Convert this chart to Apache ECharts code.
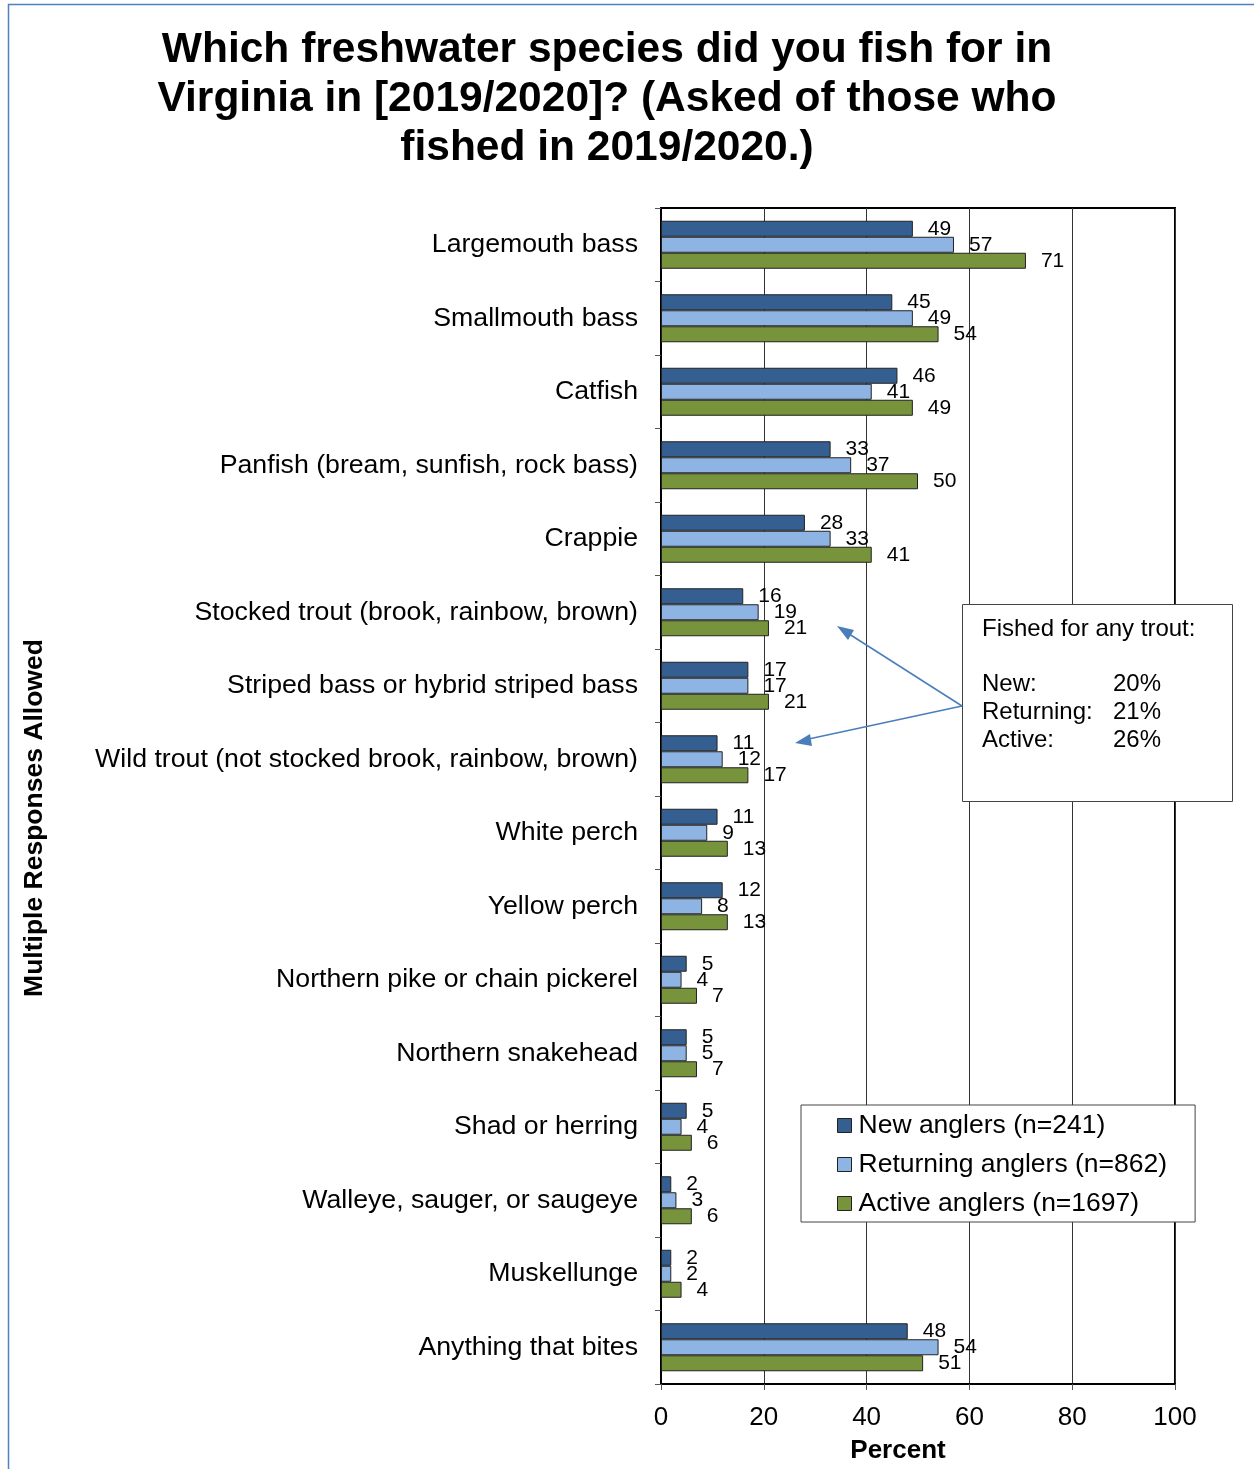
<!DOCTYPE html>
<html>
<head>
<meta charset="utf-8">
<script src="https://cdn.jsdelivr.net/npm/echarts@6/dist/echarts.min.js"></script>
<style>
  html, body { margin: 0; padding: 0; background: #fff; }
  #chart { width: 1254px; height: 1469px; }
</style>
</head>
<body>
<div id="chart"></div>
<script>
const categories = [
  'Largemouth bass',
  'Smallmouth bass',
  'Catfish',
  'Panfish (bream, sunfish, rock bass)',
  'Crappie',
  'Stocked trout (brook, rainbow, brown)',
  'Striped bass or hybrid striped bass',
  'Wild trout (not stocked brook, rainbow, brown)',
  'White perch',
  'Yellow perch',
  'Northern pike or chain pickerel',
  'Northern snakehead',
  'Shad or herring',
  'Walleye, sauger, or saugeye',
  'Muskellunge',
  'Anything that bites'
]
const newAnglers = [49, 45, 46, 33, 28, 16, 17, 11, 11, 12, 5, 5, 5, 2, 2, 48]
const returningAnglers = [57, 49, 41, 37, 33, 19, 17, 12, 9, 8, 4, 5, 4, 3, 2, 54]
const activeAnglers = [71, 54, 49, 50, 41, 21, 21, 17, 13, 13, 7, 7, 6, 6, 4, 51]
const seriesNames = ['New anglers (n=241)', 'Returning anglers (n=862)', 'Active anglers (n=1697)']
const xTicks = [0, 20, 40, 60, 80, 100]

const font = 'Liberation Sans, Arial, sans-serif'
const colors = ['#365F91', '#8EB4E3', '#77933C']

const chart = echarts.init(document.getElementById('chart'))

function barSeries(name, values, color) {
  return {
    name: name,
    type: 'bar',
    data: values,
    barWidth: 16,
    barGap: '0%',
    itemStyle: { color: color, borderColor: '#222', borderWidth: 1 },
    label: {
      show: true,
      position: 'right',
      distance: 15,
      color: '#000',
      fontSize: 21,
      fontFamily: font
    }
  }
}

chart.setOption({
  animation: false,
  title: {
    text: 'Which freshwater species did you fish for in\nVirginia in [2019/2020]? (Asked of those who\nfished in 2019/2020.)',
    left: 602,
    top: 21,
    textAlign: 'center',
    textStyle: {
      fontFamily: font,
      fontWeight: 'bold',
      fontSize: 42.5,
      lineHeight: 49,
      color: '#000'
    }
  },
  grid: { left: 661, right: 79, top: 208, bottom: 84, show: true, borderColor: '#000', borderWidth: 2 },
  legend: {
    orient: 'vertical',
    left: 801,
    top: 1105,
    width: 394,
    padding: [7, 28, 5, 36],
    itemGap: 12,
    itemWidth: 14,
    itemHeight: 14,
    borderColor: '#444',
    borderWidth: 1,
    backgroundColor: '#fff',
    icon: 'rect',
    itemStyle: { borderColor: '#222', borderWidth: 1 },
    textStyle: { fontFamily: font, fontSize: 26.5, color: '#000', padding: [0, 0, 0, 2] },
    data: seriesNames
  },
  xAxis: {
    type: 'value',
    min: 0,
    max: 100,
    interval: 20,
    name: 'Percent',
    nameLocation: 'middle',
    nameGap: 54,
    nameTextStyle: { fontFamily: font, fontWeight: 'bold', fontSize: 26, color: '#000', padding: [0, 40, 0, 0] },
    axisLine: { show: true, lineStyle: { color: '#000', width: 2 } },
    axisTick: { show: true, length: 6, lineStyle: { color: '#555' } },
    axisLabel: {
      fontFamily: font, fontSize: 26, color: '#000', margin: 21,
      formatter: (v) => (xTicks.includes(v) ? String(v) : '')
    },
    splitLine: { show: true, lineStyle: { color: '#333', width: 1 } }
  },
  yAxis: {
    type: 'category',
    data: categories,
    inverse: true,
    axisLine: { show: true, lineStyle: { color: '#000', width: 2 } },
    axisTick: { show: true, length: 6, lineStyle: { color: '#555' } },
    axisLabel: { fontFamily: font, fontSize: 26.7, color: '#000', margin: 23 },
    splitLine: { show: false }
  },
  graphic: [
    {
      type: 'rect',
      shape: { x: 8.5, y: 4.5, width: 1400, height: 1600 },
      style: { fill: 'none', stroke: '#4F81BD', lineWidth: 1.5 },
      silent: true
    },
    {
      type: 'text',
      x: 35,
      y: 818,
      rotation: Math.PI / 2,
      style: {
        text: 'Multiple Responses Allowed',
        fontFamily: font,
        fontWeight: 'bold',
        fontSize: 26.5,
        fill: '#000',
        align: 'center',
        verticalAlign: 'middle'
      }
    },
    {
      type: 'rect',
      z: 100,
      shape: { x: 962.5, y: 604.5, width: 270, height: 197 },
      style: { fill: '#fff', stroke: '#444', lineWidth: 1 }
    },
    {
      type: 'text',
      z: 101,
      x: 982,
      y: 617,
      style: {
        text: 'Fished for any trout:',
        fontFamily: font, fontSize: 24, fill: '#000'
      }
    },
    {
      type: 'text',
      z: 101,
      x: 982,
      y: 670,
      style: {
        text: 'New:\nReturning:\nActive:',
        fontFamily: font, fontSize: 24, lineHeight: 28, fill: '#000'
      }
    },
    {
      type: 'text',
      z: 101,
      x: 1113,
      y: 670,
      style: {
        text: '20%\n21%\n26%',
        fontFamily: font, fontSize: 24, lineHeight: 28, fill: '#000'
      }
    },
    {
      type: 'line',
      z: 101,
      shape: { x1: 962, y1: 706, x2: 846, y2: 632 },
      style: { stroke: '#4A7EBB', lineWidth: 1.5 }
    },
    {
      type: 'polygon',
      z: 101,
      shape: { points: [[837, 626], [854, 630], [848, 640]] },
      style: { fill: '#4A7EBB' }
    },
    {
      type: 'line',
      z: 101,
      shape: { x1: 962, y1: 706, x2: 804, y2: 740 },
      style: { stroke: '#4A7EBB', lineWidth: 1.5 }
    },
    {
      type: 'polygon',
      z: 101,
      shape: { points: [[795, 743], [810, 734], [812, 746]] },
      style: { fill: '#4A7EBB' }
    }
  ],
  series: [
    barSeries(seriesNames[0], newAnglers, colors[0]),
    barSeries(seriesNames[1], returningAnglers, colors[1]),
    barSeries(seriesNames[2], activeAnglers, colors[2])
  ]
})
</script>
</body>
</html>
